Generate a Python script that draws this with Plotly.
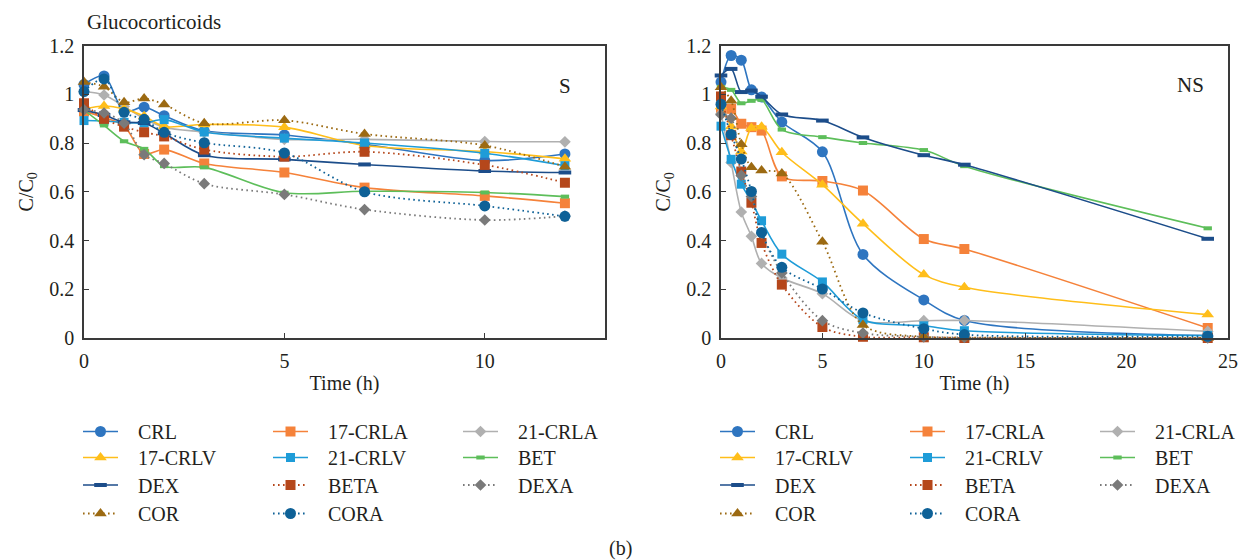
import plotly.graph_objects as go

# Sampling times (h)
t_s = [0, 0.5, 1, 1.5, 2, 3, 5, 7, 10, 12]
t_ns = [0, 0.5, 1, 1.5, 2, 3, 5, 7, 10, 12, 24]

names = ["CRL", "17-CRLA", "21-CRLA", "17-CRLV", "21-CRLV", "BET",
         "DEX", "BETA", "DEXA", "COR", "CORA"]

# C/C0 under sunlight (S)
s_crl = [1.04, 1.075, 0.93, 0.947, 0.912, 0.85, 0.833, 0.795, 0.728, 0.755]
s_17crla = [0.93, 0.905, 0.87, 0.755, 0.773, 0.716, 0.679, 0.617, 0.583, 0.553]
s_21crla = [1.01, 0.997, 0.95, 0.9, 0.865, 0.845, 0.815, 0.815, 0.806, 0.805]
s_17crlv = [0.94, 0.952, 0.94, 0.91, 0.868, 0.876, 0.865, 0.79, 0.765, 0.735]
s_21crlv = [0.892, 0.89, 0.885, 0.882, 0.896, 0.845, 0.82, 0.80, 0.758, 0.707]
s_bet = [0.935, 0.872, 0.807, 0.776, 0.705, 0.70, 0.596, 0.602, 0.597, 0.58]
s_dex = [0.935, 0.915, 0.885, 0.882, 0.84, 0.75, 0.733, 0.712, 0.685, 0.679]
s_beta = [0.963, 0.899, 0.867, 0.844, 0.827, 0.773, 0.744, 0.764, 0.71, 0.637]
s_dexa = [0.936, 0.923, 0.881, 0.752, 0.716, 0.633, 0.589, 0.527, 0.484, 0.50]
s_cor = [1.05, 1.031, 0.967, 0.983, 0.958, 0.881, 0.893, 0.837, 0.79, 0.703]
s_cora = [1.011, 1.063, 0.926, 0.897, 0.844, 0.801, 0.759, 0.60, 0.542, 0.499]

# C/C0 without sunlight (NS)
ns_crl = [1.05, 1.159, 1.14, 1.018, 0.989, 0.886, 0.764, 0.343, 0.156, 0.072, 0.01]
ns_17crla = [0.936, 0.94, 0.879, 0.865, 0.851, 0.663, 0.644, 0.605, 0.406, 0.365, 0.041]
ns_21crla = [0.92, 0.72, 0.517, 0.417, 0.306, 0.246, 0.182, 0.07, 0.071, 0.072, 0.027]
ns_17crlv = [0.95, 0.868, 0.765, 0.862, 0.867, 0.762, 0.629, 0.469, 0.26, 0.208, 0.096]
ns_21crlv = [0.869, 0.733, 0.631, 0.56, 0.481, 0.344, 0.23, 0.075, 0.05, 0.03, 0.01]
ns_bet = [1.03, 1.018, 0.963, 0.973, 0.977, 0.855, 0.824, 0.80, 0.771, 0.705, 0.45]
ns_dex = [1.077, 1.104, 1.009, 1.015, 0.99, 0.917, 0.892, 0.823, 0.75, 0.711, 0.407]
ns_beta = [0.991, 0.832, 0.683, 0.555, 0.39, 0.219, 0.045, 0.005, 0.003, 0.0, 0.0]
ns_dexa = [0.916, 0.902, 0.667, 0.58, 0.43, 0.267, 0.071, 0.02, 0.005, 0.002, 0.0]
ns_cor = [1.029, 0.973, 0.795, 0.701, 0.687, 0.675, 0.395, 0.053, 0.005, 0.002, 0.0]
ns_cora = [0.959, 0.835, 0.734, 0.601, 0.433, 0.29, 0.201, 0.103, 0.038, 0.014, 0.007]

s_series = [s_crl, s_17crla, s_21crla, s_17crlv, s_21crlv, s_bet,
            s_dex, s_beta, s_dexa, s_cor, s_cora]
ns_series = [ns_crl, ns_17crla, ns_21crla, ns_17crlv, ns_21crlv, ns_bet,
             ns_dex, ns_beta, ns_dexa, ns_cor, ns_cora]

y_ticks = [0, 0.2, 0.4, 0.6, 0.8, 1, 1.2]
y_ticktext = ["0", "0.2", "0.4", "0.6", "0.8", "1", "1.2"]

# Series styling: color, marker symbol, marker size, dotted?
styles = {
    "CRL": ("#2E75C0", "circle", 11, False),
    "17-CRLA": ("#F5823A", "square", 10, False),
    "21-CRLA": ("#B0B0B0", "diamond", 9, False),
    "17-CRLV": ("#FFBE1A", "triangle-up", 11, False),
    "21-CRLV": ("#1E9CD8", "square", 9, False),
    "BET": ("#5DBE5A", "line-ew", 6, False),
    "DEX": ("#1C4D8A", "line-ew", 9, False),
    "BETA": ("#B5471B", "square", 10, True),
    "DEXA": ("#7A7A7A", "diamond", 9, True),
    "COR": ("#9C6A12", "triangle-up", 11, True),
    "CORA": ("#0E6197", "circle", 11, True),
}

# Legend rows (three entries per row, one legend per row and panel)
rows = [["CRL", "17-CRLA", "21-CRLA"],
        ["17-CRLV", "21-CRLV", "BET"],
        ["DEX", "BETA", "DEXA"],
        ["COR", "CORA"]]
row_y = [431, 457, 484.5, 513]
last_col = {"21-CRLA", "BET", "DEXA"}

FONT = "Liberation Serif"
W, H = 1240, 560
TXT = "#231f20"

legend_of = {}
legend_names = []
k = 1
for panel in range(2):
    for r, row in enumerate(rows):
        lid = "legend" if k == 1 else f"legend{k}"
        legend_names.append((lid, panel, r))
        for nm in row:
            legend_of[(panel, nm)] = lid
        k += 1

fig = go.Figure()
for panel, (tt, series) in enumerate([(t_s, s_series), (t_ns, ns_series)]):
    for nm, yy in zip(names, series):
        color, sym, size, dotted = styles[nm]
        is_bar = sym == "line-ew"
        fig.add_trace(go.Scatter(
            x=tt, y=yy, name="\u00a0\u00a0\u00a0" + nm,
            mode="lines+markers",
            line=dict(color=color, width=1.8 if dotted else 1.6,
                      shape="spline", smoothing=0.9,
                      dash="1.6px,3.4px" if dotted else "solid"),
            marker=dict(symbol=sym, size=size, color=color,
                        line=dict(color=color, width=4 if is_bar else 0)),
            cliponaxis=False,
            xaxis="x" if panel == 0 else "x2",
            yaxis="y" if panel == 0 else "y2",
            legend=legend_of[(panel, nm)],
            legendwidth=94 if nm in last_col else 140,
        ))

left_dom = [84 / W, 605 / W]
right_dom = [721 / W, 1228 / W]
ydom = [1 - 338 / H, 1 - 45.5 / H]

axis_common = dict(
    showline=True, mirror=True, linecolor="#3a3a3a", linewidth=1.5,
    ticks="inside", ticklen=5, tickcolor="#3a3a3a", tickwidth=1.2,
    showgrid=False, zeroline=False, automargin=False,
    ticklabeloverflow="allow",
    tickfont=dict(family=FONT, size=20, color=TXT),
)
title_font = dict(family=FONT, size=20, color=TXT)

layout = dict(
    template="none",
    width=W, height=H,
    margin=dict(l=0, r=0, t=0, b=0),
    paper_bgcolor="white", plot_bgcolor="white",
    font=dict(family=FONT, size=20, color=TXT),
    xaxis=dict(domain=left_dom, range=[0, 13], tickvals=[0, 5, 10],
               ticklabelstandoff=4,
               title=dict(text="Time (h)", font=title_font, standoff=5),
               anchor="y", **axis_common),
    yaxis=dict(domain=ydom, range=[0, 1.2], tickvals=y_ticks, ticktext=y_ticktext,
               ticklabelstandoff=4,
               title=dict(text="C/C<sub>0</sub>", font=title_font, standoff=10),
               anchor="x", **axis_common),
    xaxis2=dict(domain=right_dom, range=[0, 25], tickvals=[0, 5, 10, 15, 20, 25],
                ticklabelstandoff=4,
                title=dict(text="Time (h)", font=title_font, standoff=5),
                anchor="y2", **axis_common),
    yaxis2=dict(domain=ydom, range=[0, 1.2], tickvals=y_ticks, ticktext=y_ticktext,
                ticklabelstandoff=4,
                title=dict(text="C/C<sub>0</sub>", font=title_font, standoff=10),
                anchor="x2", **axis_common),
)

legend_x = [78, 715]
for lid, panel, r in legend_names:
    layout[lid] = dict(
        x=legend_x[panel] / W, y=1 - (row_y[r] - 19) / H,
        xanchor="left", yanchor="top", orientation="h",
        bgcolor="rgba(0,0,0,0)", borderwidth=0,
        font=dict(family=FONT, size=20, color=TXT),
        itemwidth=35, traceorder="normal",
    )

fig.update_layout(**layout)

annos = [
    dict(text="Glucocorticoids", x=85 / W, y=1 - 22 / H, xanchor="left", yanchor="middle", size=21),
    dict(text="S", x=565 / W, y=1 - 86 / H, xanchor="center", yanchor="middle", size=21),
    dict(text="NS", x=1190 / W, y=1 - 85 / H, xanchor="center", yanchor="middle", size=21),
    dict(text="(b)", x=620 / W, y=1 - 548 / H, xanchor="center", yanchor="middle", size=20),
]
for a in annos:
    size = a.pop("size")
    fig.add_annotation(xref="paper", yref="paper", showarrow=False,
                       font=dict(family=FONT, size=size, color=TXT), **a)

fig.write_html("out.html")
